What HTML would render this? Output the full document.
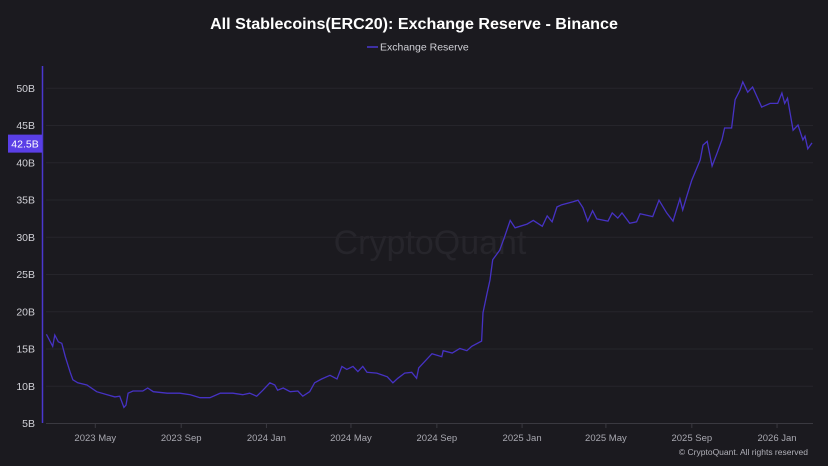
<!DOCTYPE html>
<html><head><meta charset="utf-8"><style>
body{margin:0;background:#1b1a1f;}
svg{display:block;font-family:"Liberation Sans",sans-serif;}
</style></head><body>
<svg id="chart" width="828" height="466" viewBox="0 0 828 466">
<rect width="828" height="466" fill="#1b1a1f"/>
<text x="414" y="29" text-anchor="middle" fill="#ffffff" font-size="16.1" font-weight="bold">All Stablecoins(ERC20): Exchange Reserve - Binance</text>
<g>
<line x1="367" y1="47" x2="378" y2="47" stroke="#4b37d0" stroke-width="1.5"/>
<text x="380" y="50.5" fill="#d0d0d6" font-size="10.5">Exchange Reserve</text>
</g>
<text x="430" y="254" text-anchor="middle" fill="#26252b" font-size="34">CryptoQuant</text>
<g id="grid"></g><g id="yticks"></g><g id="xticks"></g>
<line x1="42.5" y1="66" x2="42.5" y2="423" stroke="#4b37d0" stroke-width="1.5"/>
<line x1="46" y1="423.5" x2="813" y2="423.5" stroke="#3a3940"/>
<path id="series" fill="none" stroke="#4632c4" stroke-width="1.3"/>
<g id="price-label"></g>
<text x="808" y="455" text-anchor="end" fill="#b0b0b8" font-size="8.5">© CryptoQuant. All rights reserved</text>
</svg>
<script>
// days since 2023-05-01
const days=[-70,-61,-58,-53,-48,-43,-36,-32,-25,-12,2,17,28,35,41,44,47,54,68,75,83,103,121,136,150,164,179,197,211,221,231,240,250,257,261,269,279,290,297,307,314,324,336,346,353,360,369,376,383,389,403,418,426,433,443,453,460,463,482,496,498,511,522,532,539,553,555,561,565,569,579,586,594,601,618,627,640,647,654,661,668,684,691,698,705,712,718,734,740,748,754,765,775,780,798,807,818,827,837,841,847,854,866,870,876,883,890,897,901,911,916,923,927,934,941,954,966,977,983,987,991,999,1006,1013,1016,1020,1026];
const values=[16.9,15.3,16.8,15.9,15.7,13.9,11.8,10.8,10.4,10.1,9.2,8.8,8.5,8.6,7.1,7.4,9.0,9.3,9.3,9.7,9.2,9.0,9.0,8.8,8.4,8.4,9.0,9.0,8.8,9.0,8.6,9.4,10.4,10.1,9.4,9.7,9.2,9.3,8.6,9.2,10.4,10.9,11.4,10.9,12.6,12.2,12.6,11.9,12.6,11.8,11.7,11.2,10.4,11.0,11.7,11.8,11.0,12.4,14.3,13.9,14.7,14.4,15.0,14.7,15.3,16.0,19.8,22.5,24.2,26.9,28.2,30.0,32.2,31.2,31.7,32.2,31.4,32.8,32.0,34.0,34.3,34.7,34.9,33.9,32.1,33.5,32.4,32.1,33.2,32.5,33.2,31.8,32.0,33.1,32.7,34.9,33.2,32.1,35.1,33.6,35.5,37.6,40.3,42.3,42.8,39.5,41.2,43.0,44.6,44.6,48.4,49.7,50.8,49.4,50.1,47.4,47.9,47.9,49.3,47.9,48.6,44.3,45.0,43.0,43.5,41.8,42.6];
const yTicks=[5,10,15,20,25,30,35,40,45,50];
const xTickLabels=["2023 May","2023 Sep","2024 Jan","2024 May","2024 Sep","2025 Jan","2025 May","2025 Sep","2026 Jan"];
const xTickDays=[0,123,245,366,489,611,731,854,976];
const lastLabel="42.5B";
const NS="http://www.w3.org/2000/svg";
const xs=d=>95.3+d*0.6985;
const ys=v=>423-(v-5)*7.45;
function mk(tag,attrs,parent,text){const e=document.createElementNS(NS,tag);for(const k in attrs)e.setAttribute(k,attrs[k]);if(text!==undefined)e.textContent=text;parent.appendChild(e);return e;}
const grid=document.getElementById('grid'),yt=document.getElementById('yticks'),xt=document.getElementById('xticks');
yTicks.forEach(v=>{
  const g=mk('line',{x1:46,x2:813,y1:ys(v)+0.5,y2:ys(v)+0.5,stroke:'#26252b'},grid);
  
  
  const t=mk('text',{x:35,y:ys(v)+4,'text-anchor':'end',fill:'#d0d0d6','font-size':10.5},yt,v+'B');
  
  
});
xTickLabels.forEach((l,i)=>{
  const x=xs(xTickDays[i]);
  const tk=mk('line',{x1:x,x2:x,y1:423,y2:428,stroke:'#3a3940'},xt);
  
  
  const t=mk('text',{x:x,y:441,'text-anchor':'middle',fill:'#a8a8b0','font-size':9.5},xt,l);
  
  
});
document.getElementById('series').setAttribute('d',days.map((d,i)=>(i?'L':'M')+xs(d).toFixed(1)+','+ys(values[i]).toFixed(1)).join(''));
const pl=document.getElementById('price-label');
const ly=ys(42.5);
const r=mk('rect',{x:8,y:ly-9,width:34,height:18,fill:'#5a3fe6'},pl);


const lt=mk('text',{x:25,y:ly+4,'text-anchor':'middle',fill:'#ffffff','font-size':10.5},pl,lastLabel);


</script>
</body></html>
